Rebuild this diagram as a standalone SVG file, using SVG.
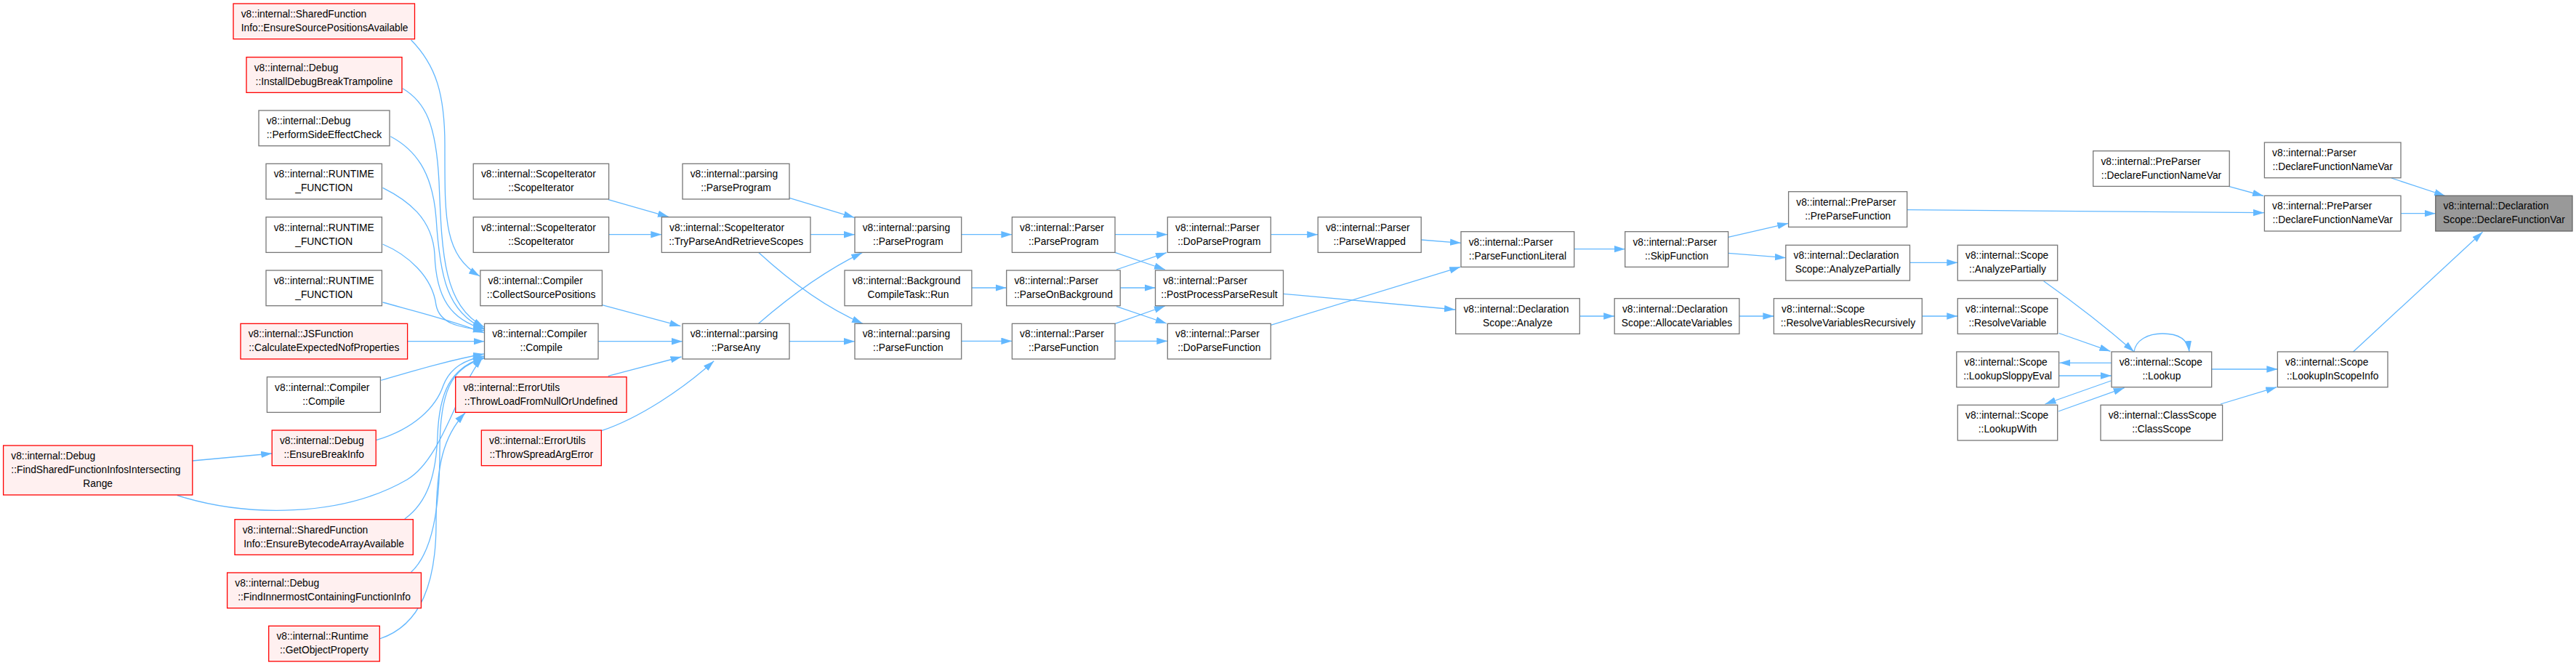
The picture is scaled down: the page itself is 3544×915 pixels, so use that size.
<svg xmlns="http://www.w3.org/2000/svg" width="3544" height="915" viewBox="0 0 3544 915">
<defs>
<style>
.n rect{fill:#ffffff;stroke:#777777;stroke-width:1.3}
.r rect{fill:#fff0f0;stroke:#ff0000;stroke-width:1.3}
.g rect{fill:#999999;stroke:#666666;stroke-width:1.3}
text{font-family:"Liberation Sans",Arial,sans-serif;font-size:13.8px;fill:#000}
.m{text-anchor:middle}
#edges path{fill:none;stroke:#63b8ff;stroke-width:1.3;marker-end:url(#ah)}
</style>
<marker id="ah" markerWidth="15" markerHeight="10" refX="15" refY="4.7" orient="auto" markerUnits="userSpaceOnUse"><path d="M0,0 L15,4.7 L0,9.4 z" fill="#63b8ff"/></marker>
</defs>
<rect width="3544" height="915" fill="#ffffff"/>
<g id="edges">
<path d="M3290,245 L3364,269.5"/>
<path d="M3303,293.7 L3350.8,293.7"/>
<path d="M3237.5,484 L3415.5,319.3"/>
<path d="M3067,256.7 L3114,269.5"/>
<path d="M2623.7,288.7 C2800,290 3000,292 3115,292.7"/>
<path d="M2377.6,326.3 L2460.3,307.3"/>
<path d="M2377.6,348.3 L2456.8,354.7"/>
<path d="M2627.5,361.3 L2693.3,361.3"/>
<path d="M2811.6,386.7 Q2880,435 2936,484"/>
<path d="M2644.3,435 L2693.3,435"/>
<path d="M2392.9,435 L2440.4,435"/>
<path d="M2832.6,458.5 L2903.4,483.3"/>
<path d="M2905,499.3 L2833.4,499.3"/>
<path d="M2832.6,517 L2905,517"/>
<path d="M2904.2,524 L2813.5,556"/>
<path d="M2831.9,566 L2922.6,533.7"/>
<path d="M2936,484 C2938,468 2955,459 2975,459 C2995,459 3010,466 3012,484"/>
<path d="M3042.7,508 L3133.4,508"/>
<path d="M3055,556 L3132.3,532.7"/>
<path d="M2165.7,342.7 L2235.7,342.7"/>
<path d="M2173.3,435 L2221.2,435"/>
<path d="M1955.2,330 L2010,334.3"/>
<path d="M1748.3,447.3 L2009.2,367.3"/>
<path d="M1765.5,404.3 L2002,426"/>
<path d="M1748.3,322.7 L1813.2,322.7"/>
<path d="M1322.7,322.7 L1392.4,322.7"/>
<path d="M1534,322.7 L1606.3,322.7"/>
<path d="M1534,347.3 L1602.9,371"/>
<path d="M1535.9,371 L1604.8,347.7"/>
<path d="M1541.2,396 L1589.5,396"/>
<path d="M1536,421.7 L1604.8,445"/>
<path d="M1534,445.3 L1602.9,421"/>
<path d="M1534,469.3 L1606.3,469.3"/>
<path d="M1322.7,469.3 L1392.4,469.3"/>
<path d="M1336.9,396 L1384.7,396"/>
<path d="M836.8,274.7 L919.9,298.3"/>
<path d="M837.6,322.7 L910.3,322.7"/>
<path d="M1086,272.3 L1175.5,299.3"/>
<path d="M1115,322.7 L1176,322.7"/>
<path d="M1043.5,347.3 C1090,390 1140,425 1187,445.3"/>
<path d="M1043.5,445.3 C1090,405 1140,370 1186.2,347.7"/>
<path d="M1086,469.7 L1176,469.7"/>
<path d="M828.4,419.7 L936.3,448.7"/>
<path d="M823,469.7 L939,469.7"/>
<path d="M836.8,517.3 L937.5,491"/>
<path d="M827.3,592.7 C880,575 940,535 982.2,496.7"/>
<path d="M560.6,469.7 L666.5,469.7"/>
<path d="M264.8,634 L374.2,624"/>
<path d="M243.8,681.7 C340,712 470,712 560,660 C610,630 630,530 664,492"/>
<path d="M565.6,55 C600,90 612,130 612,200 C612,300 610,350 660,380"/>
<path d="M554,121.7 C585,140 600,170 604,250 C608,350 610,420 666,450"/>
<path d="M537.3,187.7 C570,205 595,235 600,300 C605,380 615,430 666,452"/>
<path d="M526.6,258.3 C560,275 595,300 598,350 C600,410 620,440 666,453"/>
<path d="M526.6,336 C560,350 595,380 600,420 C605,445 630,450 666,455"/>
<path d="M526.6,416 C570,428 620,440 666,458"/>
<path d="M524.3,523.3 C570,510 620,495 666,487"/>
<path d="M517.4,605.7 C570,590 600,560 610,530 C620,505 640,495 666,490"/>
<path d="M556.8,714 C590,690 600,650 602,600 C604,540 620,505 666,492"/>
<path d="M565.6,787.3 C595,760 605,700 605,620 C605,540 620,505 666,493"/>
<path d="M522.3,879 C580,860 600,800 600,720 C600,640 610,600 640,568"/>
</g>
<g id="n_sfi_espa" class="r"><rect x="321" y="5" width="249.5" height="48.7"/><text x="331.7" y="24">v8::internal::SharedFunction</text><text x="331.7" y="43">Info::EnsureSourcePositionsAvailable</text></g>
<g id="n_dbg_idbt" class="r"><rect x="339" y="78.7" width="214" height="48.7"/><text x="349.7" y="97.7">v8::internal::Debug</text><text class="m" x="446" y="116.7">::InstallDebugBreakTrampoline</text></g>
<g id="n_dbg_psec" class="n"><rect x="356" y="152" width="180" height="48.7"/><text x="366.7" y="171">v8::internal::Debug</text><text class="m" x="446" y="190">::PerformSideEffectCheck</text></g>
<g id="n_rt1" class="n"><rect x="366" y="225.3" width="159.4" height="48.7"/><text x="376.7" y="244.3">v8::internal::RUNTIME</text><text class="m" x="445.7" y="263.3">_FUNCTION</text></g>
<g id="n_rt2" class="n"><rect x="366" y="298.7" width="159.4" height="48.7"/><text x="376.7" y="317.7">v8::internal::RUNTIME</text><text class="m" x="445.7" y="336.7">_FUNCTION</text></g>
<g id="n_rt3" class="n"><rect x="366" y="372" width="159.4" height="48.7"/><text x="376.7" y="391">v8::internal::RUNTIME</text><text class="m" x="445.7" y="410">_FUNCTION</text></g>
<g id="n_jsf" class="r"><rect x="331" y="445.3" width="229.6" height="48.7"/><text x="341.7" y="464.3">v8::internal::JSFunction</text><text class="m" x="445.8" y="483.3">::CalculateExpectedNofProperties</text></g>
<g id="n_comp_l" class="n"><rect x="367.4" y="518.7" width="156" height="48.7"/><text x="378.1" y="537.7">v8::internal::Compiler</text><text class="m" x="445.4" y="556.7">::Compile</text></g>
<g id="n_dbg_ebi" class="r"><rect x="374.2" y="592" width="143" height="48.7"/><text x="384.9" y="611">v8::internal::Debug</text><text class="m" x="445.7" y="630">::EnsureBreakInfo</text></g>
<g id="n_dbg_fsfi" class="r"><rect x="4.6" y="613" width="260.2" height="68"/><text x="15.3" y="631.7">v8::internal::Debug</text><text x="15.3" y="651">::FindSharedFunctionInfosIntersecting</text><text class="m" x="134.7" y="670">Range</text></g>
<g id="n_sfi_ebaa" class="r"><rect x="323" y="714.7" width="245.3" height="48.7"/><text x="333.7" y="733.7">v8::internal::SharedFunction</text><text class="m" x="445.6" y="752.7">Info::EnsureBytecodeArrayAvailable</text></g>
<g id="n_dbg_ficfi" class="r"><rect x="312.6" y="788" width="266.8" height="48.7"/><text x="323.3" y="807">v8::internal::Debug</text><text class="m" x="446" y="826">::FindInnermostContainingFunctionInfo</text></g>
<g id="n_rt_gop" class="r"><rect x="369.7" y="861.3" width="152.6" height="48.7"/><text x="380.4" y="880.3">v8::internal::Runtime</text><text class="m" x="446" y="899.3">::GetObjectProperty</text></g>
<g id="n_si1" class="n"><rect x="651.2" y="225.3" width="186.4" height="48.7"/><text x="661.9" y="244.3">v8::internal::ScopeIterator</text><text class="m" x="744.4" y="263.3">::ScopeIterator</text></g>
<g id="n_si2" class="n"><rect x="651.2" y="298.7" width="186.4" height="48.7"/><text x="661.9" y="317.7">v8::internal::ScopeIterator</text><text class="m" x="744.4" y="336.7">::ScopeIterator</text></g>
<g id="n_comp_csp" class="n"><rect x="660.8" y="372" width="167.6" height="48.7"/><text x="671.5" y="391">v8::internal::Compiler</text><text class="m" x="744.6" y="410">::CollectSourcePositions</text></g>
<g id="n_comp_c" class="n"><rect x="666.5" y="445.3" width="156.5" height="48.7"/><text x="677.2" y="464.3">v8::internal::Compiler</text><text class="m" x="744.7" y="483.3">::Compile</text></g>
<g id="n_eu_tlfnu" class="r"><rect x="626.7" y="518.7" width="235.3" height="48.7"/><text x="637.4" y="537.7">v8::internal::ErrorUtils</text><text class="m" x="744.3" y="556.7">::ThrowLoadFromNullOrUndefined</text></g>
<g id="n_eu_tsae" class="r"><rect x="662.3" y="592" width="165" height="48.7"/><text x="673" y="611">v8::internal::ErrorUtils</text><text class="m" x="744.8" y="630">::ThrowSpreadArgError</text></g>
<g id="n_p_pp1" class="n"><rect x="939" y="225.3" width="147" height="48.7"/><text x="949.7" y="244.3">v8::internal::parsing</text><text class="m" x="1012.5" y="263.3">::ParseProgram</text></g>
<g id="n_si_tpars" class="n"><rect x="910.3" y="298.7" width="204.7" height="48.7"/><text x="921" y="317.7">v8::internal::ScopeIterator</text><text class="m" x="1012.7" y="336.7">::TryParseAndRetrieveScopes</text></g>
<g id="n_p_pany" class="n"><rect x="939" y="445.3" width="147" height="48.7"/><text x="949.7" y="464.3">v8::internal::parsing</text><text class="m" x="1012.5" y="483.3">::ParseAny</text></g>
<g id="n_p_pp2" class="n"><rect x="1176" y="298.7" width="146.7" height="48.7"/><text x="1186.7" y="317.7">v8::internal::parsing</text><text class="m" x="1249.4" y="336.7">::ParseProgram</text></g>
<g id="n_bct_run" class="n"><rect x="1162" y="372" width="174.9" height="48.7"/><text x="1172.7" y="391">v8::internal::Background</text><text class="m" x="1249.5" y="410">CompileTask::Run</text></g>
<g id="n_p_pf" class="n"><rect x="1176" y="445.3" width="146.7" height="48.7"/><text x="1186.7" y="464.3">v8::internal::parsing</text><text class="m" x="1249.4" y="483.3">::ParseFunction</text></g>
<g id="n_pr_pp" class="n"><rect x="1392.4" y="298.7" width="141.6" height="48.7"/><text x="1403.1" y="317.7">v8::internal::Parser</text><text class="m" x="1463.2" y="336.7">::ParseProgram</text></g>
<g id="n_pr_pob" class="n"><rect x="1384.7" y="372" width="156.5" height="48.7"/><text x="1395.4" y="391">v8::internal::Parser</text><text class="m" x="1463" y="410">::ParseOnBackground</text></g>
<g id="n_pr_pf" class="n"><rect x="1392.4" y="445.3" width="141.6" height="48.7"/><text x="1403.1" y="464.3">v8::internal::Parser</text><text class="m" x="1463.2" y="483.3">::ParseFunction</text></g>
<g id="n_pr_dpp" class="n"><rect x="1606.3" y="298.7" width="142" height="48.7"/><text x="1617" y="317.7">v8::internal::Parser</text><text class="m" x="1677.3" y="336.7">::DoParseProgram</text></g>
<g id="n_pr_ppr" class="n"><rect x="1589.5" y="372" width="176" height="48.7"/><text x="1600.2" y="391">v8::internal::Parser</text><text class="m" x="1677.5" y="410">::PostProcessParseResult</text></g>
<g id="n_pr_dpf" class="n"><rect x="1606.3" y="445.3" width="142" height="48.7"/><text x="1617" y="464.3">v8::internal::Parser</text><text class="m" x="1677.3" y="483.3">::DoParseFunction</text></g>
<g id="n_pr_pw" class="n"><rect x="1813.2" y="298.7" width="142" height="48.7"/><text x="1823.9" y="317.7">v8::internal::Parser</text><text class="m" x="1884.2" y="336.7">::ParseWrapped</text></g>
<g id="n_pr_pfl" class="n"><rect x="2010" y="318.7" width="155.7" height="48.7"/><text x="2020.7" y="337.7">v8::internal::Parser</text><text class="m" x="2087.9" y="356.7">::ParseFunctionLiteral</text></g>
<g id="n_ds_an" class="n"><rect x="2002.7" y="410.7" width="170.6" height="48.7"/><text x="2013.4" y="429.7">v8::internal::Declaration</text><text class="m" x="2088" y="448.7">Scope::Analyze</text></g>
<g id="n_pr_sf" class="n"><rect x="2235.7" y="318.7" width="141.9" height="48.7"/><text x="2246.4" y="337.7">v8::internal::Parser</text><text class="m" x="2306.7" y="356.7">::SkipFunction</text></g>
<g id="n_ds_av" class="n"><rect x="2221.2" y="410.7" width="171.7" height="48.7"/><text x="2231.9" y="429.7">v8::internal::Declaration</text><text class="m" x="2307" y="448.7">Scope::AllocateVariables</text></g>
<g id="n_pp_ppf" class="n"><rect x="2460.6" y="263.7" width="163.1" height="48.7"/><text x="2471.3" y="282.7">v8::internal::PreParser</text><text class="m" x="2542.2" y="301.7">::PreParseFunction</text></g>
<g id="n_ds_ap" class="n"><rect x="2456.8" y="337.3" width="170.7" height="48.7"/><text x="2467.5" y="356.3">v8::internal::Declaration</text><text class="m" x="2542.2" y="375.3">Scope::AnalyzePartially</text></g>
<g id="n_sc_rvr" class="n"><rect x="2440.4" y="410.7" width="203.9" height="48.7"/><text x="2451.1" y="429.7">v8::internal::Scope</text><text class="m" x="2542.4" y="448.7">::ResolveVariablesRecursively</text></g>
<g id="n_sc_ap" class="n"><rect x="2693.3" y="337.3" width="137.4" height="48.7"/><text x="2704" y="356.3">v8::internal::Scope</text><text class="m" x="2762" y="375.3">::AnalyzePartially</text></g>
<g id="n_sc_rv" class="n"><rect x="2693.3" y="410.7" width="137.4" height="48.7"/><text x="2704" y="429.7">v8::internal::Scope</text><text class="m" x="2762" y="448.7">::ResolveVariable</text></g>
<g id="n_sc_lse" class="n"><rect x="2691.8" y="484" width="140.8" height="48.7"/><text x="2702.5" y="503">v8::internal::Scope</text><text class="m" x="2762.2" y="522">::LookupSloppyEval</text></g>
<g id="n_sc_lw" class="n"><rect x="2693.3" y="557.3" width="137.4" height="48.7"/><text x="2704" y="576.3">v8::internal::Scope</text><text class="m" x="2762" y="595.3">::LookupWith</text></g>
<g id="n_sc_l" class="n"><rect x="2905" y="484" width="137.7" height="48.7"/><text x="2915.7" y="503">v8::internal::Scope</text><text class="m" x="2973.9" y="522">::Lookup</text></g>
<g id="n_cs_cs" class="n"><rect x="2890" y="557.3" width="167.6" height="48.7"/><text x="2900.7" y="576.3">v8::internal::ClassScope</text><text class="m" x="2973.8" y="595.3">::ClassScope</text></g>
<g id="n_pp_dfnv1" class="n"><rect x="2879.7" y="207.7" width="187.5" height="48.7"/><text x="2890.4" y="226.7">v8::internal::PreParser</text><text class="m" x="2973.5" y="245.7">::DeclareFunctionNameVar</text></g>
<g id="n_sc_lisi" class="n"><rect x="3133.4" y="484" width="151.6" height="48.7"/><text x="3144.1" y="503">v8::internal::Scope</text><text class="m" x="3209.2" y="522">::LookupInScopeInfo</text></g>
<g id="n_pr_dfnv" class="n"><rect x="3115.4" y="196" width="187.6" height="48.7"/><text x="3126.1" y="215">v8::internal::Parser</text><text class="m" x="3209.2" y="234">::DeclareFunctionNameVar</text></g>
<g id="n_pp_dfnv2" class="n"><rect x="3115.4" y="269.3" width="187.6" height="48.7"/><text x="3126.1" y="288.3">v8::internal::PreParser</text><text class="m" x="3209.2" y="307.3">::DeclareFunctionNameVar</text></g>
<g id="n_ds_dfv" class="g"><rect x="3350.8" y="269.3" width="188.2" height="48.7"/><text x="3361.5" y="288.3">v8::internal::Declaration</text><text class="m" x="3444.9" y="307.3">Scope::DeclareFunctionVar</text></g>
</svg>
